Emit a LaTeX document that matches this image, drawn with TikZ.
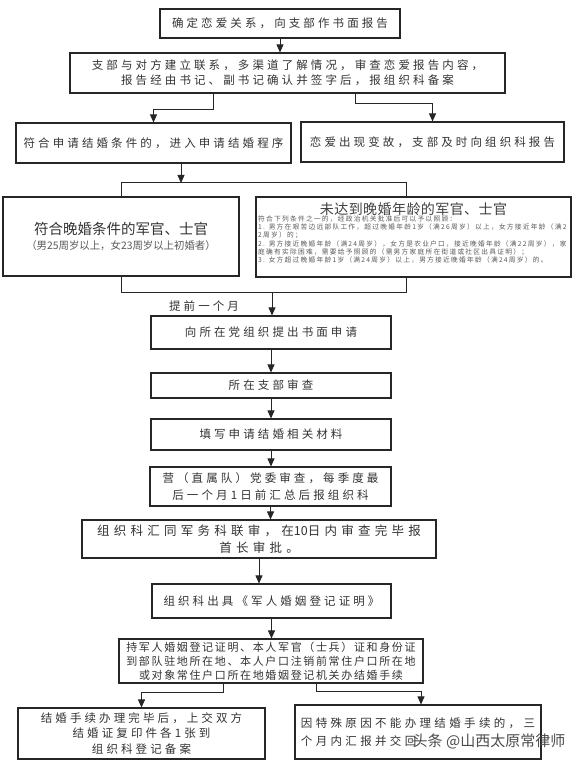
\documentclass[tikz,border=0pt]{standalone}
\usepackage{fontspec}
\newfontfamily\cjk{Noto Sans CJK SC}
\newcommand\tightnum[1]{{\addfontfeature{LetterSpace=0}#1}}
\usetikzlibrary{positioning,arrows.meta,calc}

\begin{document}
\begin{tikzpicture}[x=1pt,y=-1pt,
box/.style={draw=black!85,line width=1.1pt,inner sep=0pt,align=center,text=black!80},
txt/.style={font=\cjk\fontsize{11.5}{15}\selectfont\addfontfeature{LetterSpace=27}},
tall/.style={font=\cjk\fontsize{11.5}{17}\selectfont\addfontfeature{LetterSpace=27}},
link/.style={line width=0.8pt,draw=black!85},
arr/.style={-{Triangle[length=8pt,width=7pt]}}]
\fill[white] (0,0) rectangle (576,762);
\useasboundingbox (0,0) rectangle (576,762);

\node[box,txt,minimum width=240pt,minimum height=29pt] (sure) at (280,23.5) {确定恋爱关系，向支部作书面报告};
\node[box,txt,minimum width=435pt,minimum height=40pt] (branch) at (287.5,73) {支部与对方建立联系，多渠道了解情况，审查恋爱报告内容，\\报告经由书记、副书记确认并签字后，报组织科备案};
\node[box,txt,minimum width=275pt,minimum height=40pt] (apply) at (153.5,143) {符合申请结婚条件的，进入申请结婚程序};
\node[box,txt,minimum width=263pt,minimum height=40pt] (change) at (432.5,142) {恋爱出现变故，支部及时向组织科报告};

% two groups of applicants
\node[box,font=\cjk,minimum width=236pt,minimum height=79pt] (late) at (121,236.5) {{\fontsize{14.5}{17}\selectfont 符合晚婚条件的军官、士官}\\[3pt]{\fontsize{10.4}{13}\selectfont\color{black!65}（男25周岁以上，女23周岁以上初婚者）}};
\node[box,minimum width=315pt,minimum height=80pt] (early) at (413.5,237) {};
\node[font=\cjk\fontsize{14}{16}\selectfont\addfontfeature{LetterSpace=3},text=black!75] (earlytitle) at (413.5,209) {未达到晚婚年龄的军官、士官};
\node[anchor=north west,align=left,inner sep=0pt,text=black!65,font=\cjk\fontsize{6.7}{8.3}\selectfont\addfontfeature{LetterSpace=19}] (earlynote) at (258,215.5) {符合下列条件之一的，经政治机关批准后可以予以照顾：\\1. 男方在艰苦边远部队工作，超过晚婚年龄1岁（满26周岁）以上，女方接近年龄（满2\\2周岁）的；\\2. 男方接近晚婚年龄（满24周岁），女方是农业户口，接近晚婚年龄（满22周岁），家\\庭确有实际困难，需要给予照顾的（需男方家庭所在街道或社区出具证明）；\\3. 女方超过晚婚年龄1岁（满24周岁）以上，男方接近晚婚年龄（满24周岁）的。};

\node[txt,text=black!80] (ahead) at (204,306) {提前一个月};
\node[box,txt,minimum width=240pt,minimum height=33pt] (written) at (271,332.5) {向所在党组织提出书面申请};
\node[box,txt,minimum width=240pt,minimum height=25pt] (review) at (271,385.5) {所在支部审查};
\node[box,txt,minimum width=240pt,minimum height=31pt] (materials) at (271,434.5) {填写申请结婚相关材料};
\node[box,tall,minimum width=241pt,minimum height=39pt] (committee) at (270.5,486.5) {营（直属队）党委审查，每季度最\\后一个月1日前汇总后报组织科};
\node[box,font=\cjk\fontsize{12.5}{17}\selectfont\addfontfeature{LetterSpace=34},minimum width=354pt,minimum height=38pt] (joint) at (259,539) {组织科汇同军务科联审，在\tightnum{10}日内审查完毕报\\首长审批。};
\node[box,txt,minimum width=239pt,minimum height=34pt] (certify) at (271.5,601) {组织科出具《军人婚姻登记证明》};
\node[box,font=\cjk\fontsize{11}{14}\selectfont\addfontfeature{LetterSpace=15},minimum width=304pt,minimum height=44pt] (register) at (271,661) {持军人婚姻登记证明、本人军官（士兵）证和身份证\\到部队驻地所在地、本人户口注销前常住户口所在地\\或对象常住户口所在地婚姻登记机关办结婚手续};
\node[box,font=\cjk\fontsize{11.5}{15.5}\selectfont\addfontfeature{LetterSpace=27},minimum width=247pt,minimum height=51pt] (filed) at (141.5,733.5) {结婚手续办理完毕后，上交双方\\结婚证复印件各1张到\\组织科登记备案};
\node[box,align=left,font=\cjk\fontsize{11.5}{18}\selectfont\addfontfeature{LetterSpace=29},minimum width=246pt,minimum height=54pt] (failed) at (418,732) {因特殊原因不能办理结婚手续的，三\\个月内汇报并交回};
\node[font=\cjk\fontsize{15}{15}\selectfont,text=black!70] (mark) at (489,741) {头条 @山西太原常律师};

% connectors
\draw[link,arr] (sure.south) -- (sure.south |- branch.north);
\draw[link,arr] ([xshift=-74.5pt]branch.south) |- ([yshift=13pt]apply.north) -- (apply.north);
\draw[link,arr] ([xshift=67.5pt]branch.south) |- ([yshift=18pt]change.north) -- (change.north);
\coordinate (fork) at (181,183);
\draw[link,arr] (apply.south -| fork) -- (fork);
\draw[link] (late.north) |- ([xshift=-7.5pt,yshift=14pt]early.north) -- ([xshift=-7.5pt]early.north);
\draw[link] (late.south) |- ([xshift=-7.5pt,yshift=-15pt]early.south) -- ([xshift=-7.5pt]early.south);
\coordinate (join) at (272,292);
\draw[link,arr] (join) -- (join |- written.north);
\foreach \a/\b in {written/review,review/materials,materials/committee,committee/joint,joint/certify,certify/register}
  \draw[link,arr] (\a.south) -- (\a.south |- \b.north);
\draw[link,arr] ([xshift=-48pt]register.south) |- ([yshift=15pt]filed.north) -- (filed.north);
\draw[link,arr] ([xshift=45pt]register.south) |- ([xshift=3pt,yshift=13pt]failed.north) -- ([xshift=3pt]failed.north);
\end{tikzpicture}
\end{document}
